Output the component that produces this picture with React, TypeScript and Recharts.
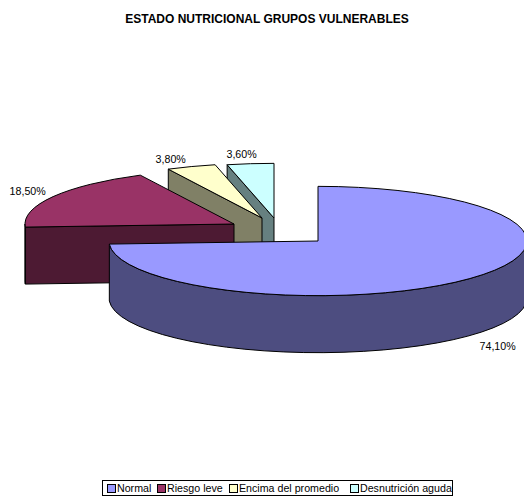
import React from 'react'
import { Legend, Pie, PieChart } from 'recharts'

const categories = ['Normal', 'Riesgo leve', 'Encima del promedio', 'Desnutrición aguda']
const values = [74.1, 18.5, 3.8, 3.6]
const topColors = ['#9999FF', '#993366', '#FFFFCC', '#CCFFFF']
const sideColors = ['#4D4D80', '#4D1A33', '#808066', '#668080']

// exploded slices: offset of each slice from the pie centre
const sliceOffsets = [[0, 0], [-84, -17], [-56, -23], [-44, -23]]
const labelNudges = [[3, 4], [4, -1], [-9, 1], [-5, -1]]
const legendLefts = [4, 54, 126, 247]

const FONT = '"Liberation Sans", Arial, sans-serif'
const TILT = 0.2615
const DEPTH = 57
const RAD = Math.PI / 180

// Back-to-front so the big slice paints last. Running counter-clockwise from the top
// puts the slices in the same clockwise places as the original.
const rows = categories
  .map((name, i) => ({ name, value: values[i], fill: topColors[i], side: sideColors[i], order: i }))
  .reverse()

function Slice3D(props: any) {
  const { cx, cy, startAngle, endAngle, outerRadius: r } = props
  const row = props.payload?.order !== undefined ? props.payload : props
  const [dx, dy] = sliceOffsets[row.order]
  const ox = cx + dx
  const oy = cy + dy
  const ry = r * TILT
  const a0 = Math.min(startAngle, endAngle)
  const a1 = Math.max(startAngle, endAngle)
  const px = (a: number) => ox + r * Math.cos(a * RAD)
  const py = (a: number) => oy - ry * Math.sin(a * RAD)
  const pt = (a: number, d = 0) => `${px(a).toFixed(2)} ${(py(a) + d).toFixed(2)}`
  const large = a1 - a0 > 180 ? 1 : 0

  const face = (a: number) =>
    `M${ox} ${oy} L${pt(a)} L${pt(a, DEPTH)} L${ox} ${oy + DEPTH} Z`

  // outer wall only shows on the front half of the ellipse
  const w0 = Math.max(a0, 180)
  const w1 = Math.min(a1, 360)
  const wall =
    w1 > w0
      ? `M${pt(w0)} A${r} ${ry} 0 0 0 ${pt(w1)} L${pt(w1, DEPTH)} A${r} ${ry} 0 0 1 ${pt(w0, DEPTH)} Z`
      : null

  const stroke = { stroke: '#000', strokeWidth: 1, strokeLinejoin: 'round' as const }
  return (
    <g>
      {Math.cos(a0 * RAD) > 0.001 && <path d={face(a0)} fill={row.side} {...stroke} />}
      {Math.cos(a1 * RAD) < -0.001 && <path d={face(a1)} fill={row.side} {...stroke} />}
      {wall && <path d={wall} fill={row.side} {...stroke} />}
      <path d={`M${ox} ${oy} L${pt(a0)} A${r} ${ry} 0 ${large} 0 ${pt(a1)} Z`} fill={row.fill} {...stroke} />
    </g>
  )
}

function renderLabel(props: any) {
  const { cx, cy, midAngle, outerRadius, value } = props
  const row = props.payload?.order !== undefined ? props.payload : props
  const [dx, dy] = sliceOffsets[row.order]
  const [nx, ny] = labelNudges[row.order]
  const R = outerRadius + 34
  const sin = Math.sin(midAngle * RAD)
  const x = cx + dx + R * Math.cos(midAngle * RAD) + nx
  const y = cy + dy - R * TILT * sin + (sin < 0 ? DEPTH : 0) + ny
  return (
    <text x={x} y={y} textAnchor="middle" dominantBaseline="central" fontFamily={FONT} fontSize={10.67} fill="#000">
      {value.toFixed(2).replace('.', ',')}%
    </text>
  )
}

function LegendBox() {
  return (
    <div style={{ position: 'relative', width: 349, height: 14, border: '1px solid #000', fontFamily: FONT, fontSize: 10.67, lineHeight: '14px', color: '#000', background: '#fff' }}>
      {categories.map((name, i) => (
        <span key={name} style={{ position: 'absolute', left: legendLefts[i], top: 0, whiteSpace: 'nowrap' }}>
          <span style={{ display: 'inline-block', width: 7, height: 7, border: '1px solid #000', background: topColors[i], marginRight: 1, verticalAlign: -0.5 }} />
          {name}
        </span>
      ))}
    </div>
  )
}

export default function App() {
  return (
    <div style={{ position: 'absolute', left: 0, top: 0, width: 524, height: 496 }}>
      <PieChart width={524} height={496} margin={{ top: 0, right: 0, bottom: 0, left: 0 }}>
        <text x={267} y={19} textAnchor="middle" dominantBaseline="central" fontFamily={FONT} fontSize={12} fontWeight="bold" fill="#000">
          ESTADO NUTRICIONAL GRUPOS VULNERABLES
        </text>
        <Pie
          data={rows}
          dataKey="value"
          nameKey="name"
          cx={318}
          cy={241}
          outerRadius={209}
          startAngle={90}
          endAngle={450}
          shape={Slice3D}
          label={renderLabel}
          labelLine={false}
          isAnimationActive={false}
        />
        <Legend content={LegendBox} wrapperStyle={{ left: 102, top: 480, width: 351, height: 16, bottom: 'auto' }} />
      </PieChart>
    </div>
  )
}
